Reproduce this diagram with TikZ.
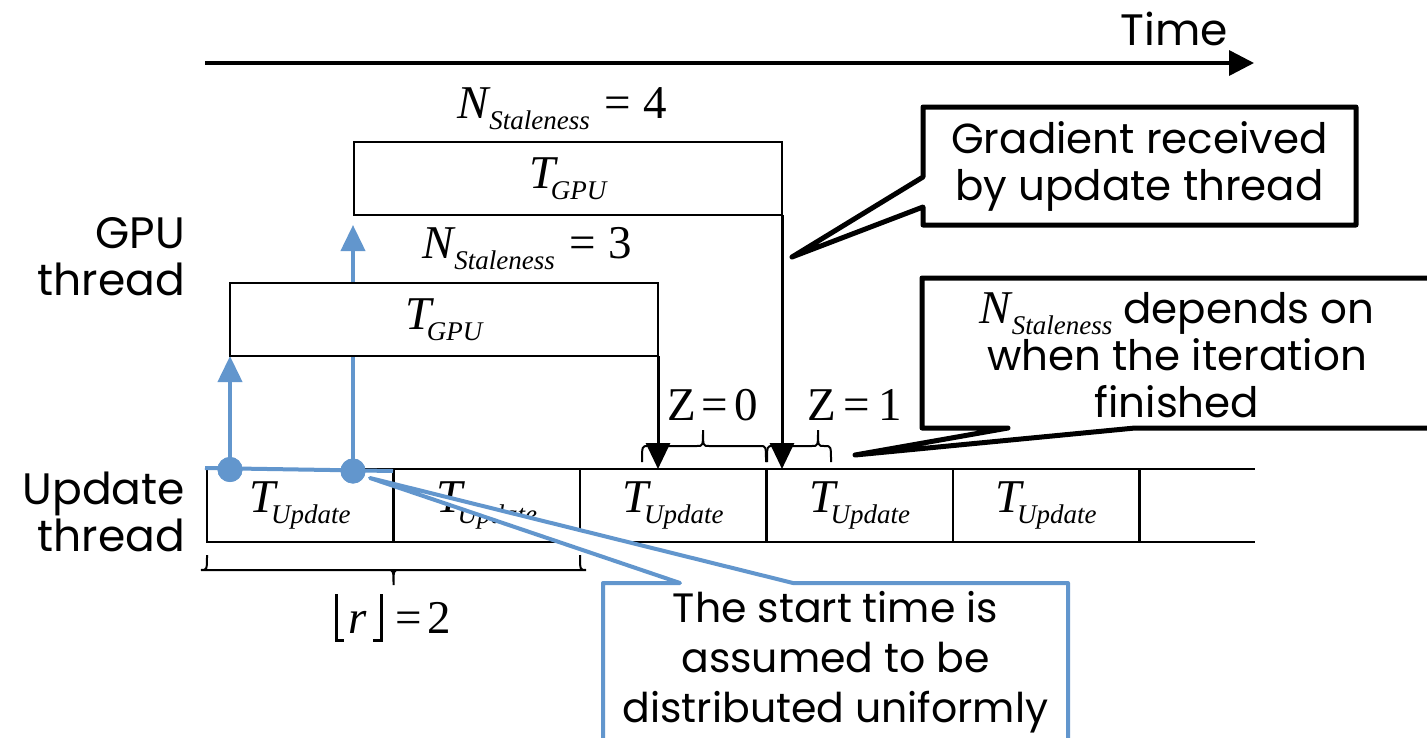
\documentclass[tikz,border=0pt]{standalone}
\usepackage{fontspec}
\usepackage{graphicx}
\setmainfont{Poppins}
\newfontfamily\tnr{Liberation Serif}
\usetikzlibrary{arrows.meta,calc}
\definecolor{cblue}{RGB}{98,150,205}
\newcommand\bigsans{\fontsize{42}{47}\selectfont}
\newcommand\lblsans{\fontsize{44}{47}\selectfont}
\newcommand\mbig{\tnr\fontsize{47}{47}\selectfont}
\newcommand\msub{\fontsize{27}{27}\selectfont}
\newcommand\Tsub[1]{{\mbig\itshape T\kern-5pt\raisebox{-11pt}{\msub #1}}}
\newcommand\Nst{{\mbig\itshape N\kern1pt\raisebox{-11pt}{\msub Staleness}}}
% brace: xa, xt, xb, y0, h  (tip at y0-h)
\newcommand\bracepath[5]{%
  \draw[bracestyle] (#1,#4) .. controls (#1,{#4-#5/2}) and (#1,{#4-#5/2}) .. ({#1+6},{#4-#5/2})
    -- ({#2-6},{#4-#5/2}) .. controls (#2,{#4-#5/2}) and (#2,{#4-#5/2}) .. (#2,{#4-#5})
    .. controls (#2,{#4-#5/2}) and (#2,{#4-#5/2}) .. ({#2+6},{#4-#5/2})
    -- ({#3-6},{#4-#5/2}) .. controls (#3,{#4-#5/2}) and (#3,{#4-#5/2}) .. (#3,#4);}
\begin{document}
\begin{tikzpicture}[x=1pt,y=-1pt,
  every node/.style={inner sep=0pt, outer sep=0pt},
  sanslbl/.style={font=\lblsans, align=right},
  ctext/.style={font=\bigsans, align=center},
  gpubox/.style={draw, fill=white, line width=2.2pt, minimum width=428pt, minimum height=73pt},
  cell/.style={draw, line width=2.2pt, minimum width=186.5pt, minimum height=73pt},
  blackarrow/.style={line width=3pt, -{Triangle[length=26pt,width=24pt]}},
  bluearrow/.style={cblue, line width=4pt, -{Triangle[length=26pt,width=24pt]}},
  dot/.style={circle, fill=cblue, minimum size=25pt},
  bracestyle/.style={line width=2pt},
  callout/.style={line width=5pt, line join=round, fill=white},
  bluecallout/.style={cblue, line width=4pt, line join=round, fill=white},
  mlbl/.style={font=\mbig}]
\fill[white] (0,0) rectangle (1427,737);
\useasboundingbox (0,0) rectangle (1427,737);

% time axis
\coordinate (t0) at (205,63);
\coordinate (t1) at (1254,63);
\draw[line width=3.5pt, -{Triangle[length=25pt,width=25pt]}] (t0) -- (t1);
\node[font=\lblsans, anchor=base] (time) at (1174,45) {Time};

% thread labels
\node[sanslbl, anchor=east] (gpulbl) at (185,257) {GPU\\thread};
\node[sanslbl, anchor=east] (updlbl) at (185,512) {Update\\thread};

% update row cells
\node[cell] (u1) at (300.25,505.5) {\Tsub{Update}};
\node[cell] (u2) at (486.75,505.5) {\Tsub{Update}};
\node[cell] (u3) at (673.25,505.5) {\Tsub{Update}};
\node[cell] (u4) at (859.75,505.5) {\Tsub{Update}};
\node[cell] (u5) at (1046.25,505.5) {\Tsub{Update}};
\coordinate (rowtop) at (1255,469);
\coordinate (rowbot) at (1255,542);
\draw[line width=2.2pt] (u5.north east) -- (rowtop);
\draw[line width=2.2pt] (u5.south east) -- (rowbot);

% blue start-time range and dots
\coordinate (b0) at (205,468);
\coordinate (b1) at (393,471);
\node[dot] (d1) at (230,469.5) {};
\node[dot] (d2) at (353,471) {};

% GPU boxes and blue arrows (arrows behind boxes)
\coordinate (a1) at (230,356);
\coordinate (a2) at (353,225);
\draw[bluearrow] (d1.center) -- (a1);
\draw[bluearrow] (d2.center) -- (a2);
\node[gpubox] (g1) at (444,319.5) {\Tsub{GPU}};
\node[gpubox] (g2) at (568,178.5) {\Tsub{GPU}};
\draw[cblue, line width=4pt] (b0) -- (b1);
\fill[cblue] (d1) circle (12.5pt);
\fill[cblue] (d2) circle (12.5pt);

% staleness labels
\node[mlbl, anchor=base west] (n4) at (457,118) {\Nst\hspace{15pt}=\hspace{12pt}4};
\node[mlbl, anchor=base west] (n3) at (422,258) {\Nst\hspace{15pt}=\hspace{12pt}3};

% gradient arrows
\draw[blackarrow] (g1.south east) -- (g1.south east |- u3.north);
\draw[blackarrow] (g2.south east) -- (g2.south east |- u4.north);

% Z braces and labels
\bracepath{642}{703}{766}{462}{32}
\bracepath{767}{818}{831}{462}{32}
\node[mlbl, anchor=base west] (z0) at (667,420) {Z\hspace{6pt}=\hspace{6pt}0};
\node[mlbl, anchor=base west] (z1) at (807,420) {Z\hspace{8pt}=\hspace{8pt}1};

% r brace and label
\bracepath{580}{393.5}{207}{555}{-30}
\node[mlbl, anchor=base west] (rl) at (348,633) {\itshape r};
\node[mlbl, anchor=base west] (req) at (395,633) {=\hspace{6pt}2};
\draw[line width=3pt] (336,594) -- (336,640) -- (344,640);
\draw[line width=3pt] (381,594) -- (381,640) -- (373,640);

% callout: gradient received
\draw[callout] (923,107) -- (1356,107) -- (1356,225) -- (923,225) -- (923,207) -- (792,257) -- (923,177) -- cycle;
\node[ctext] (c1) at (1139.5,166) {Gradient received\\by update thread};

% callout: staleness depends
\draw[callout] (922,278) -- (1445,278) -- (1445,428) -- (1135,428) -- (855,455) -- (1008,428) -- (922,428) -- cycle;
\node[ctext] (c2) at (1177,355) {\Nst{} depends on\\when the iteration\\finished};

% callout: start time
\draw[bluecallout] (603,583) -- (680,583) -- (370,478) -- (793,583) -- (1068,583) -- (1068,760) -- (603,760) -- cycle;
\node[ctext, font=\fontsize{41}{50}\selectfont] (c3) at (835.5,662) {The start time is\\assumed to be\\distributed uniformly};
\end{tikzpicture}
\end{document}
